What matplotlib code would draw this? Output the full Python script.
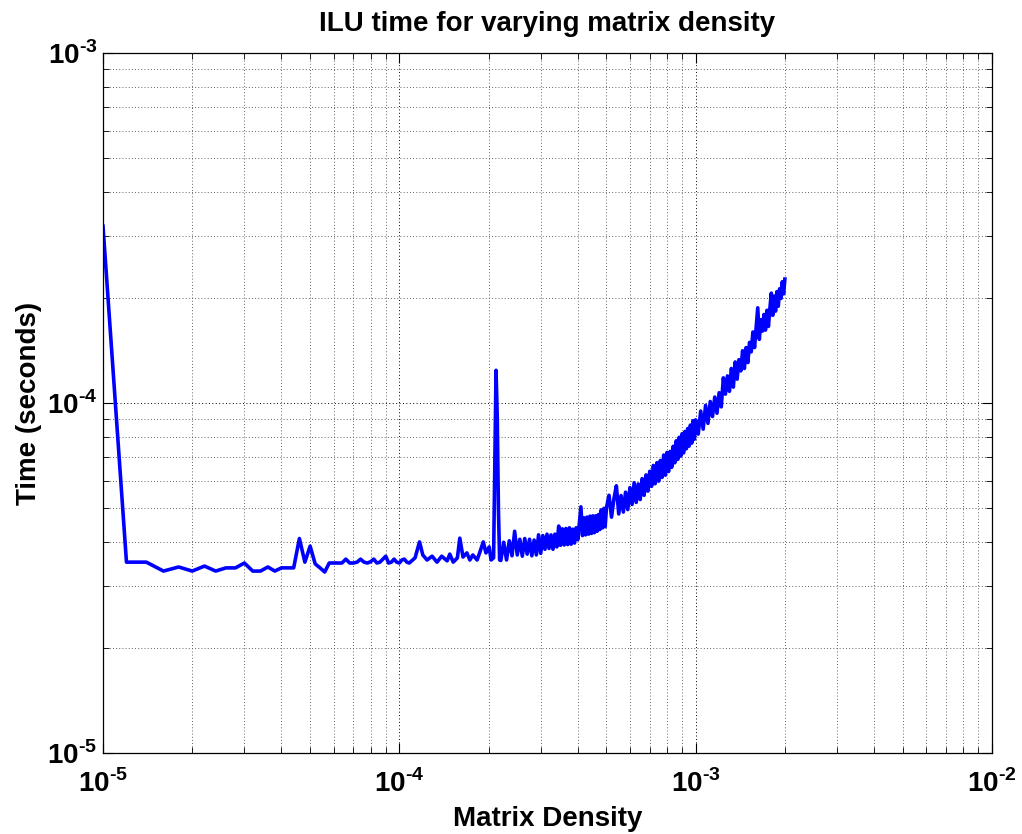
import numpy as np
import matplotlib
matplotlib.use("Agg")
import matplotlib.pyplot as plt
from matplotlib.ticker import FixedLocator, FixedFormatter, LogLocator, NullFormatter

plt.rcParams['font.family'] = ['Liberation Sans', 'DejaVu Sans']
plt.rcParams['mathtext.fontset'] = 'custom'
plt.rcParams['mathtext.rm'] = 'Liberation Sans:bold'
plt.rcParams['mathtext.bf'] = 'Liberation Sans:bold'

# matrix density (units of 1e-4) and ILU time (units of 1e-5 s)
density_e4 = [
    # sparse end, one point every 2e-6
    0.10, 0.12, 0.14, 0.16, 0.18, 0.20, 0.22, 0.24, 0.26, 0.28,
    0.30, 0.32, 0.34, 0.36, 0.38, 0.40, 0.42, 0.44, 0.46, 0.48,
    0.50, 0.52, 0.54, 0.56, 0.58, 0.60, 0.62, 0.64, 0.66, 0.68,
    0.70, 0.72, 0.74, 0.76, 0.78, 0.80, 0.82, 0.84, 0.86, 0.88,
    0.90, 0.92, 0.94, 0.96, 0.98, 1.00, 1.02, 1.04, 1.06, 1.08,
    1.13, 1.17, 1.20, 1.24, 1.29, 1.34, 1.39, 1.45, 1.48, 1.52,
    1.57, 1.60, 1.64, 1.69, 1.73, 1.77, 1.83, 1.87, 1.92, 1.96,
    2.01, 2.04, 2.08, 2.10, 2.12, 2.14, 2.16, 2.18,
    # noisy band
    2.20, 2.25, 2.30, 2.35, 2.40, 2.45, 2.50, 2.55, 2.60, 2.65,
    2.70, 2.75, 2.80, 2.85, 2.90, 2.95, 3.00, 3.05, 3.10, 3.15,
    3.20, 3.25, 3.30, 3.35, 3.40, 3.45, 3.50, 3.55, 3.60, 3.65,
    3.70, 3.75, 3.80, 3.85, 3.90, 3.95, 4.00, 4.05, 4.10, 4.15,
    4.20, 4.25, 4.30, 4.35, 4.40, 4.45, 4.50, 4.55, 4.60, 4.65,
    4.70, 4.75, 4.80, 4.85, 4.90, 4.95, 5.00,
    5.1, 5.2, 5.3, 5.4, 5.5, 5.6, 5.7, 5.8, 5.9, 6.0,
    6.1, 6.2, 6.3, 6.4, 6.5, 6.6, 6.7, 6.8, 6.9, 7.0,
    7.1, 7.2, 7.3, 7.4, 7.5, 7.6, 7.7, 7.8, 7.9, 8.0,
    8.1, 8.2, 8.3, 8.4, 8.5, 8.6, 8.7, 8.8, 8.9, 9.0,
    9.1, 9.2, 9.3, 9.4, 9.5, 9.6, 9.7, 9.8, 9.9, 10.0,
    10.2, 10.4, 10.6, 10.8, 11.0, 11.2, 11.4, 11.6, 11.8, 12.0,
    12.2, 12.4, 12.6, 12.8, 13.0, 13.2, 13.4, 13.6, 13.8, 14.0,
    14.2, 14.4, 14.6, 14.8, 15.0, 15.2, 15.4, 15.6, 15.8, 16.0,
    16.2, 16.4, 16.6, 16.8, 17.0, 17.2, 17.4, 17.6, 17.8, 18.0,
    18.2, 18.4, 18.6, 18.8, 19.0, 19.2, 19.4, 19.6, 19.8, 20.0,
]
time_e5 = [
    32.0, 3.51, 3.51, 3.31, 3.40, 3.31, 3.42, 3.31, 3.38, 3.38,
    3.49, 3.31, 3.31, 3.40, 3.31, 3.38, 3.38, 3.38, 4.10, 3.51,
    3.90, 3.47, 3.38, 3.29, 3.49, 3.49, 3.49, 3.49, 3.58, 3.49,
    3.49, 3.51, 3.58, 3.51, 3.49, 3.52, 3.58, 3.49, 3.51, 3.58,
    3.65, 3.49, 3.51, 3.58, 3.51, 3.49, 3.56, 3.58, 3.51, 3.49,
    3.61, 4.01, 3.68, 3.56, 3.65, 3.51, 3.65, 3.54, 3.70, 3.51,
    3.61, 4.11, 3.63, 3.73, 3.56, 3.68, 3.56, 3.75, 4.01, 3.73,
    3.88, 3.56, 3.61, 6.65, 12.4, 9.12, 4.94, 3.56,
    3.55, 4.00, 3.56, 4.04, 3.66, 4.30, 3.68, 4.08, 3.65, 4.10,
    3.70, 4.08, 3.66, 4.06, 3.68, 4.20, 3.72, 4.18, 3.82, 4.22,
    3.84, 4.20, 3.82, 4.22, 3.88, 4.45, 3.92, 4.37, 3.93, 4.38,
    3.94, 4.40, 3.95, 4.36, 3.98, 4.40, 4.07, 4.55, 5.05, 4.18,
    4.70, 4.20, 4.72, 4.22, 4.75, 4.24, 4.76, 4.26, 4.76, 4.30,
    4.80, 4.35, 4.95, 4.40, 5.00, 4.43, 5.02,
    5.45, 4.72, 5.33, 5.80, 4.82, 5.44, 4.88, 5.56, 4.96, 5.73,
    5.13, 5.92, 5.20, 5.87, 5.30, 6.08, 5.45, 6.23, 5.60, 6.38,
    5.78, 6.63, 5.88, 6.75, 5.98, 6.85, 6.13, 7.10, 6.22, 7.22,
    6.37, 7.27, 6.55, 7.52, 6.75, 7.80, 6.90, 7.98, 7.05, 8.17,
    7.20, 8.29, 7.40, 8.45, 7.53, 8.65, 7.68, 8.90, 7.88, 8.95,
    8.15, 9.48, 8.42, 9.84, 8.75, 10.1, 9.15, 10.4, 9.35, 10.7,
    9.75, 11.8, 10.6, 11.95, 10.8, 12.55, 11.1, 13.1, 11.7, 13.3,
    12.35, 14.1, 12.55, 14.4, 13.05, 14.9, 14.0, 15.95, 14.4, 16.45,
    18.7, 15.2, 17.3, 16.05, 17.9, 16.15, 18.4, 16.55, 18.6, 20.6,
    17.8, 20.2, 18.3, 20.8, 18.9, 21.2, 19.9, 22.2, 20.5, 22.6,
]

x_ticks = [1e-5, 1e-4, 1e-3, 1e-2]
x_labels = [r'$10^{\text{-}5}$', r'$10^{\text{-}4}$', r'$10^{\text{-}3}$', r'$10^{\text{-}2}$']
y_ticks = [1e-5, 1e-4, 1e-3]
y_labels = [r'$10^{\text{-}5}$', r'$10^{\text{-}4}$', r'$10^{\text{-}3}$']

density = np.array(density_e4) * 1e-4
times = np.array(time_e5) * 1e-5

fig = plt.figure(figsize=(10.22, 8.34), dpi=100)
ax = fig.add_axes([103 / 1022, 1 - 753 / 834, 889 / 1022, 700 / 834])

ax.loglog(density, times, color='#0000ff', lw=2.6)

ax.set_xlim(1e-5, 1e-2)
ax.set_ylim(1e-5, 1e-3)

ax.xaxis.set_major_locator(FixedLocator(x_ticks))
ax.xaxis.set_major_formatter(FixedFormatter(x_labels))
ax.yaxis.set_major_locator(FixedLocator(y_ticks))
ax.yaxis.set_major_formatter(FixedFormatter(y_labels))
for axis in (ax.xaxis, ax.yaxis):
    axis.set_minor_locator(LogLocator(base=10, subs=np.arange(2, 10), numticks=20))
    axis.set_minor_formatter(NullFormatter())

ax.grid(True, which='major', color='black', linestyle=(0, (1, 2.5)), linewidth=0.7)
ax.grid(True, which='minor', color='0.3', linestyle=(0, (1, 2.5)), linewidth=0.65)
ax.tick_params(which='both', direction='in', top=True, right=True, labelsize=20)
ax.tick_params(which='major', length=7, width=0.8)
ax.tick_params(axis='x', which='major', pad=12)
ax.tick_params(axis='y', which='major', pad=4)
ax.tick_params(which='minor', length=4, width=0.6)
for s in ax.spines.values():
    s.set_linewidth(0.9)

ax.set_title('ILU time for varying matrix density', fontsize=20, fontweight='bold', pad=16)
ax.set_xlabel('Matrix Density', fontsize=20, fontweight='bold')
ax.set_ylabel('Time (seconds)', fontsize=20, fontweight='bold')
ax.xaxis.set_label_coords(0.5, -0.075)
ax.yaxis.set_label_coords(-0.069, 0.5)

fig.savefig('out.png', dpi=100)
